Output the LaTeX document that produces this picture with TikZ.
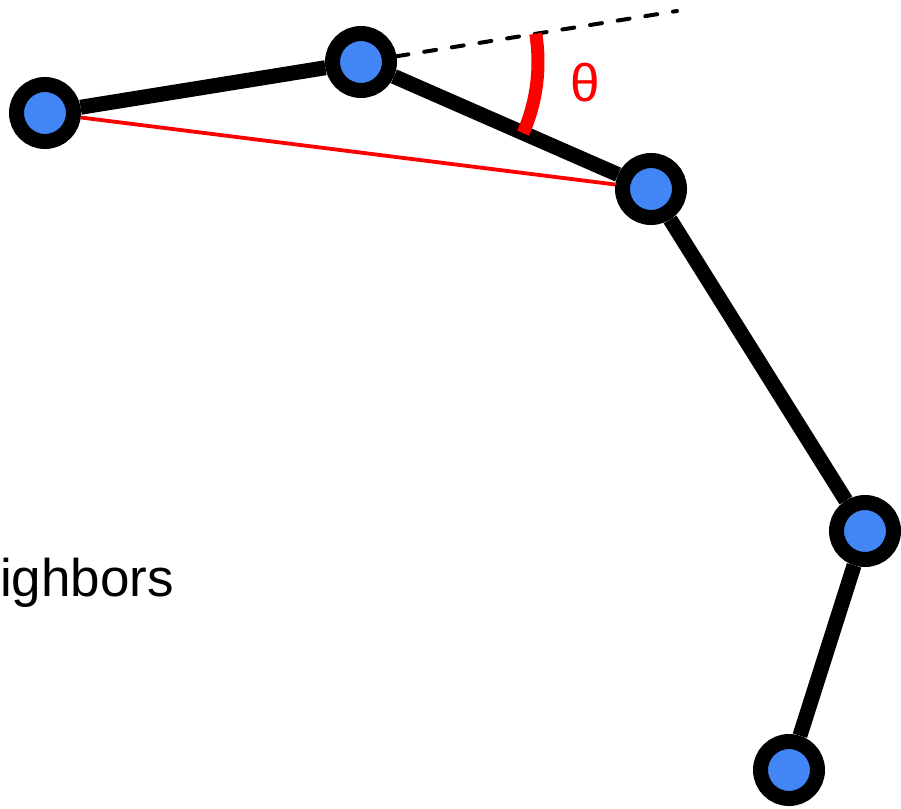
\documentclass[tikz,border=0pt]{standalone}
\usepackage{fontspec}
\setmainfont{Liberation Sans}
\usetikzlibrary{calc}
\definecolor{jblue}{RGB}{66,133,244}
\definecolor{jred}{RGB}{255,0,0}
\tikzset{
  joint/.style={circle, fill=jblue, draw=black, line width=15pt, minimum size=57pt, inner sep=0pt},
  bone/.style={black, line width=15pt},
  chord/.style={jred, line width=3.8pt},
  ext/.style={black, line width=4pt, line cap=round, dash pattern=on 12pt off 16pt},
  angarc/.style={jred, line width=13pt},
  lbl/.style={font=\fontsize{53}{64}\selectfont, inner sep=0pt},
}

\begin{document}
\begin{tikzpicture}[x=1pt,y=1pt]
\useasboundingbox (0,0) rectangle (901,-808);
\def\R{177} \def\Aa{-23.7} \def\Ab{9.2}
\node[joint] (p1) at (45,-113) {};
\node[joint] (p2) at (361,-62) {};
\node[joint] (p3) at (651,-189) {};
\node[joint] (p4) at (865,-531) {};
\node[joint] (p5) at (789,-770) {};
\coordinate (tip) at ($(p1)!2!(p2)$);
\draw[chord] (p1) -- (p3);
\draw[bone] (p1) -- (p2);
\draw[bone] (p2) -- (p3);
\draw[bone] (p3) -- (p4);
\draw[bone] (p4) -- (p5);
\draw[ext] (p2) -- (tip);
\draw[angarc] ($(p2)+(\Aa:\R)$) arc[start angle=\Aa, end angle=\Ab, radius=\R];
\node[lbl, text=jred] (theta) at (585,-83) {θ};
\node[lbl, anchor=base west] (nb) at (0,-596) {ighbors};
\end{tikzpicture}
\end{document}
